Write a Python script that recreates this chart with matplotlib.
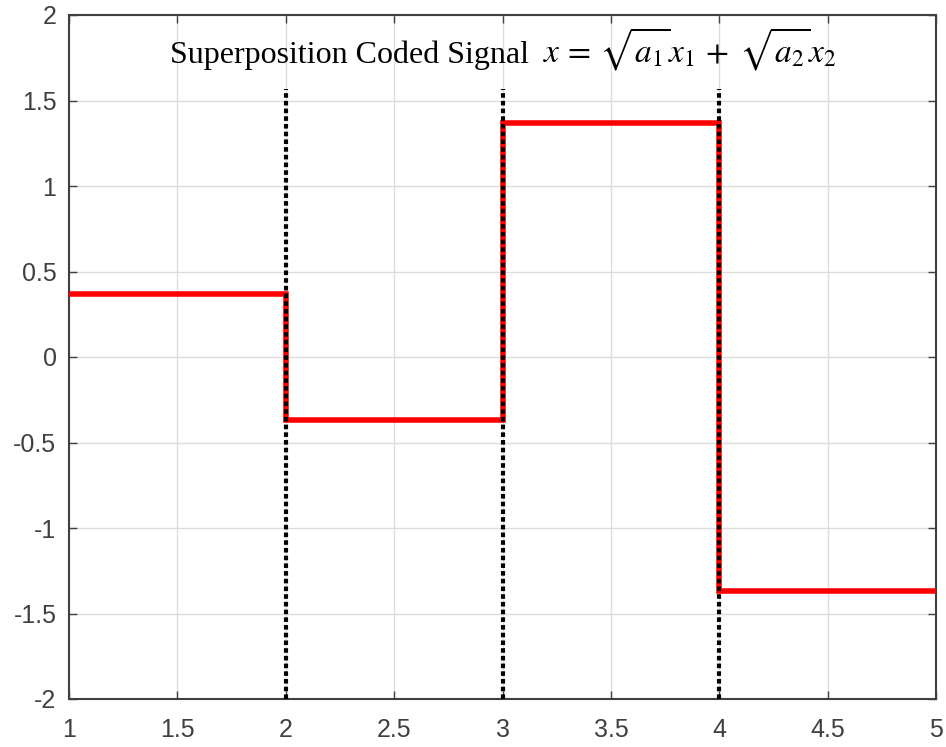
import matplotlib
matplotlib.use("Agg")
import matplotlib.pyplot as plt
import numpy as np

# Data
symbol_edges = [1, 2, 3, 4, 5]
signal_levels = [0.366, -0.366, 1.366, -1.366]
boundary_x = [2, 3, 4]
boundary_top = 1.57
x_ticks = [1, 1.5, 2, 2.5, 3, 3.5, 4, 4.5, 5]
x_ticklabels = ["1", "1.5", "2", "2.5", "3", "3.5", "4", "4.5", "5"]
y_ticks = [-2, -1.5, -1, -0.5, 0, 0.5, 1, 1.5, 2]
y_ticklabels = ["-2", "-1.5", "-1", "-0.5", "0", "0.5", "1", "1.5", "2"]

plt.rcParams['mathtext.fontset'] = 'stix'

fig = plt.figure(figsize=(9.46, 7.47), dpi=100)
ax = fig.add_axes([69/946, 1 - 699/747, (936-69)/946, (699-15)/747])

ax.set_xlim(1, 5)
ax.set_ylim(-2, 2)
ax.grid(True, color='#dcdcdc', linewidth=1)
ax.set_axisbelow(True)

xs = symbol_edges
ys = signal_levels + [signal_levels[-1]]
ax.step(xs, ys, where='post', color='#ff0000', linewidth=4, zorder=3,
        solid_joinstyle='miter')

for bx in boundary_x:
    ax.plot([bx, bx], [-2, boundary_top], color='black', linestyle=(0, (1.1, 0.75)),
            linewidth=3, zorder=4)

ax.set_xticks(x_ticks)
ax.set_xticklabels(x_ticklabels)
ax.set_yticks(y_ticks)
ax.set_yticklabels(y_ticklabels)
ax.tick_params(direction='in', top=True, right=True, length=6, width=1,
               colors='#404040', labelcolor='#404040', labelsize=18,
               labelfontfamily='Liberation Sans')
ax.tick_params(axis='x', pad=14)
ax.tick_params(axis='y', pad=9)
for s in ax.spines.values():
    s.set_color('#404040')
    s.set_linewidth(1.5)

ax.text(0.3235, 0.93, "Superposition Coded Signal", transform=ax.transAxes,
        ha='center', va='baseline', fontsize=23, family='Liberation Serif')
ax.text(0.716, 0.93, r"$\mathit{x}\,=\,\sqrt{a_1}x_1\,+\;\sqrt{a_2}x_2$",
        transform=ax.transAxes, ha='center', va='baseline', fontsize=24)

fig.savefig("out.png", dpi=100)
